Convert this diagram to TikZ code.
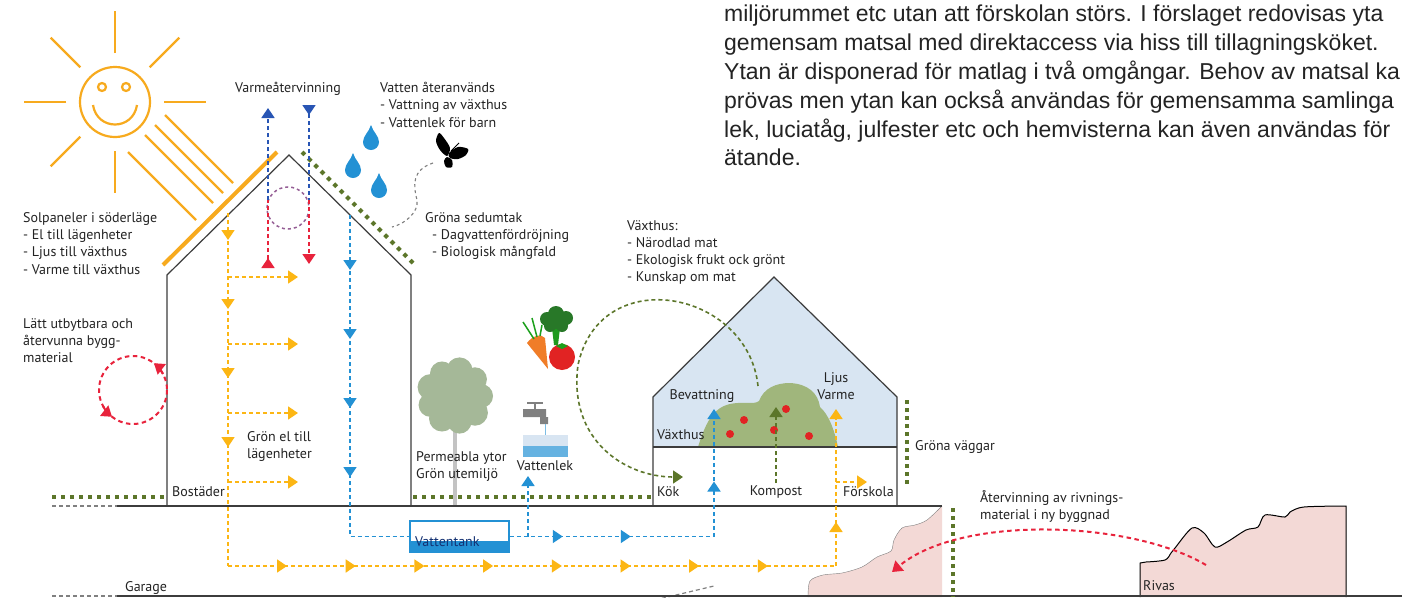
\documentclass[tikz,border=0pt]{standalone}
\usepackage{fontspec}
\setmainfont{PT Sans}
\newfontfamily\bodyfont{Liberation Sans}
\usetikzlibrary{arrows.meta,decorations.markings}

\definecolor{sunorange}{RGB}{247,170,30}
\definecolor{sunflow}{RGB}{252,182,20}
\definecolor{waterblue}{RGB}{35,145,212}
\definecolor{warmblue}{RGB}{40,85,180}
\definecolor{warmred}{RGB}{232,35,60}
\definecolor{reuse}{RGB}{232,35,60}
\definecolor{mossgreen}{RGB}{92,118,42}
\definecolor{loopviolet}{RGB}{150,95,150}
\definecolor{glassblue}{RGB}{216,229,242}
\definecolor{bushgreen}{RGB}{160,182,124}
\definecolor{treegreen}{RGB}{165,184,152}
\definecolor{trunkgrey}{RGB}{195,195,195}
\definecolor{cliffpink}{RGB}{243,217,214}
\definecolor{wallgrey}{RGB}{60,60,60}
\definecolor{labelgrey}{RGB}{35,35,35}
\definecolor{tankblue}{RGB}{20,50,115}
\definecolor{carrot}{RGB}{240,125,40}
\definecolor{brocco}{RGB}{40,120,40}
\definecolor{tomato}{RGB}{225,35,35}

\tikzset{
  raindrop/.pic={
    \fill[waterblue] (0,-17) .. controls (2,-10) and (8,-6) .. (8,0)
      .. controls (8,4.5) and (4.5,8) .. (0,8)
      .. controls (-4.5,8) and (-8,4.5) .. (-8,0)
      .. controls (-8,-6) and (-2,-10) .. cycle;
  }
}

\begin{document}
\begin{tikzpicture}[x=1pt,y=-1pt,
  >={Triangle[width=13pt,length=10pt]},
  lbl/.style={anchor=north west, inner sep=0pt, align=left, text=labelgrey,
    font=\fontsize{14}{17.3}\selectfont},
  clbl/.style={lbl, anchor=north, align=center},
  wall/.style={draw=wallgrey, line width=1.2pt},
  sunline/.style={draw=sunorange, line width=2.2pt},
  flow/.style={line width=1.6pt, dash pattern=on 4pt off 3pt},
  greenflow/.style={flow, draw=mossgreen},
  redflow/.style={draw=reuse, line width=2pt, dash pattern=on 4.5pt off 3.5pt},
  greendots/.style={draw=mossgreen, line width=4pt, dash pattern=on 4pt off 5pt},
  walldots/.style={draw=mossgreen, line width=3.5pt, dash pattern=on 3.5pt off 4.5pt},
  greydash/.style={draw=gray, line width=1.2pt, dash pattern=on 4pt off 3pt},
  midtips/.style={postaction={decorate},
    decoration={markings, mark=between positions #1 with {\arrow{>}}}},
  onetip/.style={postaction={decorate},
    decoration={markings, mark=at position #1 with {\arrow{>}}}}
]
\fill[white] (0,0) rectangle (1402,597);
\useasboundingbox (0,0) rectangle (1402,597);

% sun
\coordinate (sun) at (115,102);
\draw[sunline] (sun) circle (35);
\foreach \a in {0,90,135,180,225,270,315}
  \draw[sunline, shift={(sun)}] (\a:49) -- (\a:91);
\draw[sunline] (102,87) circle (4) (126,87) circle (4);
\draw[sunline] (93,105) .. controls (97,131) and (133,131) .. (137,105);
\foreach \d in {50,30,10,-24}
  \draw[sunline] ({(280+\d)/2},{(280-\d)/2}) -- ({(416+\d)/2},{(416-\d)/2});
\draw[sunorange, line width=4pt] (163,265) -- (277,152);

% rain and butterfly
\pic at (371,142) {raindrop};
\pic at (353,170) {raindrop};
\pic at (379,190) {raindrop};
\fill[black] plot[smooth cycle] coordinates {(447,156) (440,150) (436,141) (439,133) (444,138) (450,148)};
\fill[black] plot[smooth cycle] coordinates {(449,153) (458,147) (468,149) (466,155) (458,159) (450,158)};
\fill[black] plot[smooth cycle] coordinates {(447,157) (452,160) (452,167) (446,167) (444,161)};
\draw[black, line width=0.8pt] (451,151) -- (459,143);
\draw[gray, line width=1.1pt, dash pattern=on 3pt off 3pt]
  (433,163) .. controls (412,170) and (413,185) .. (417,200)
  .. controls (419,212) and (405,224) .. (392,227);

% ground, garage and cliffs
\fill[cliffpink] plot[smooth] coordinates {(942,506) (927,520) (915,525) (902,528) (894,540) (891,551) (877,557) (862,567) (842,573) (823,575) (810,581) (808,597)} -- (942,597) -- cycle;
\draw[gray] plot[smooth] coordinates {(942,506) (927,520) (915,525) (902,528) (894,540) (891,551) (877,557) (862,567) (842,573) (823,575) (810,581) (808,597)};
\filldraw[fill=cliffpink, draw=black, line width=1pt] (1140,597) -- (1140,563)
  -- plot[smooth] coordinates {(1146,562) (1165,560) (1171,553) (1175,548) (1192,528) (1204,533) (1215,547) (1227,542) (1246,530) (1258,527) (1265,515) (1285,517) (1290,512) (1304,507) (1346,506)}
  -- (1346,597);
\draw[greydash] (52,506) -- (117,506) (52,596) -- (117,596);
\draw[greydash] (655,600) -- (714,586);
\draw[wall] (117,506) -- (942,506);
\draw[wall] (117,596) -- (1402,596);

% green roof, walls and yards
\draw[greendots] (302,152) -- (413,263);
\draw[greendots] (52,497) -- (165,497);
\draw[greendots] (413,497) -- (651,497);
\draw[walldots] (907,400) -- (907,485);
\draw[walldots] (953,508) -- (953,597);

% greenhouse
\fill[glassblue] (653,447) -- (653,397) -- (774,277) -- (897,397) -- (897,447) -- cycle;
\fill[bushgreen] (698,447) .. controls (705,425) and (712,408) .. (730,404)
  .. controls (745,401) and (754,405) .. (759,401)
  .. controls (764,388) and (776,383) .. (790,383)
  .. controls (808,384) and (818,393) .. (820,407)
  .. controls (828,414) and (834,428) .. (838,447) -- cycle;
\foreach \p in {(744,420),(730,434),(786,409),(774,430),(809,436)}
  \fill[tomato] \p circle (4);
\draw[wall] (653,506) -- (653,397) -- (774,277) -- (897,397) -- (897,506);
\draw[wall] (653,447) -- (897,447);

% houses
\draw[wall] (167,506) -- (167,275) -- (289,155) -- (411,275) -- (411,506);

% tree
\draw[trunkgrey, line width=4pt] (455,425) -- (455,505);
\fill[treegreen] (455,396) circle (30);
\foreach \a/\r in {0/12,40/13,80/12,120/13,160/12,200/13,240/12,280/13,320/12}
  \fill[treegreen, shift={(455,396)}] (\a:26) circle (\r);

% vegetables
\fill[carrot] (527,343) .. controls (532,336) and (541,333) .. (545,338) -- (548,369) -- cycle;
\draw[brocco!70!green, line width=1.5pt] (534,339) -- (523,322) (537,337) -- (532,318) (540,336) -- (542,325);
\fill[brocco!75!green] (552,328) -- (560,328) -- (558,345) -- (554,345) -- cycle;
\fill[brocco] (547,319) circle (7) (556,314) circle (8) (566,318) circle (7) (562,326) circle (6) (550,326) circle (6) (556,322) circle (7);
\fill[tomato] (562,357) circle (13);
\fill[brocco!70!green] (556,346) -- (562,343) -- (568,346) -- (562,349) -- cycle;

% water tap and basin
\draw[gray, line width=2pt] (527,403) -- (543,403) (535,403) -- (535,410);
\fill[gray] (523,409) rectangle (546,417) (540,417) rectangle (548,424);
\draw[waterblue!60, line width=1pt] (545,424) -- (545,446);
\fill[glassblue] (523,435) rectangle (568,446);
\fill[waterblue!70] (523,446) rectangle (568,457);

% water tank
\fill[waterblue] (410,541) rectangle (509,552);
\node[draw=waterblue, line width=1.5pt, minimum width=99pt, minimum height=31pt, inner sep=0pt] (tank) at (459.5,536.5) {};

% heat recovery
\draw[loopviolet, line width=1.5pt, dash pattern=on 3pt off 3pt] (288,208) circle (21);
\draw[flow, warmred, onetip=8pt] (268,266) -- (268,200);
\draw[flow, warmblue, ->] (268,200) -- (268,108);
\draw[flow, warmblue, onetip=8pt] (309,107) -- (309,200);
\draw[flow, warmred, ->] (309,200) -- (309,264);

% solar power
\draw[flow, sunflow, midtips={27pt and 302pt step 69pt}] (228,213) -- (228,566);
\foreach \y in {277,344,413,482}
  \draw[flow, sunflow, ->] (228,\y) -- (298,\y);
\draw[flow, sunflow, midtips={59pt and 540pt step 68.7pt}] (228,566) -- (836,566);
\draw[flow, sunflow, onetip=44pt, ->] (836,566) -- (836,409);
\draw[flow, sunflow, ->] (836,482) -- (867,482);

% rain water
\draw[flow, waterblue, midtips={55pt and 262pt step 69pt}] (350,215) -- (350,536.5) -- (tank.west);
\draw[flow, waterblue, midtips={53pt and 121pt step 68pt}] (tank.east) -- (714,536.5);
\draw[flow, waterblue, onetip=55pt, ->] (714,536.5) -- (714,409);
\draw[flow, waterblue, ->] (528,536.5) -- (528,476);

% food and compost
\draw[greenflow, ->] (758,386) .. controls (748,290) and (600,262) .. (578,365)
  .. controls (568,440) and (625,477) .. (683,477);
\draw[greenflow, ->] (776,483) -- (776,407);

% reused materials
\draw[redflow] (133,390) circle (34);
\draw[reuse, line width=2pt, ->, shift={(133,390)}] (-28:34) arc[start angle=-28, end angle=-52, radius=34];
\draw[reuse, line width=2pt, ->, shift={(133,390)}] (152:34) arc[start angle=152, end angle=128, radius=34];
\draw[redflow, ->] (1206,565) .. controls (1130,520) and (960,515) .. (892,572);

% labels
\node[lbl] (sol) at (23,212) {Solpaneler i söderläge\\- El till lägenheter\\- Ljus till växthus\\- Varme till växthus};
\node[lbl] (bygg) at (23,318) {Lätt utbytbara och\\återvunna bygg-\\material};
\node[clbl] (varme) at (288,82) {Varmeåtervinning};
\node[lbl] (vatten) at (380,82) {Vatten återanvänds\\- Vattning av växthus\\- Vattenlek för barn};
\node[lbl] (sedum) at (425,212) {Gröna sedumtak\\\hspace*{7pt}- Dagvattenfördröjning\\\hspace*{7pt}- Biologisk mångfald};
\node[lbl] (vaxthus) at (627,220) {Växthus:\\- Närodlad mat\\- Ekologisk frukt ock grönt\\- Kunskap om mat};
\node[lbl] (gronel) at (247,431) {Grön el till\\lägenheter};
\node[lbl] (bostader) at (172,486) {Bostäder};
\node[lbl] (perm) at (416,451) {Permeabla ytor\\Grön utemiljö};
\node[clbl] (vattenlek) at (545,460) {Vattenlek};
\node[lbl, text=tankblue] (tanktxt) at (415,536) {Vattentank};
\node[lbl] (garage) at (125,581) {Garage};
\node[clbl] (bevattning) at (702,389) {Bevattning};
\node[clbl] (ljus) at (836,372) {Ljus\\Varme};
\node[lbl] (vaxt) at (657,429) {Växthus};
\node[lbl] (kok) at (657,486) {Kök};
\node[clbl] (kompost) at (776,485) {Kompost};
\node[lbl] (forskola) at (843,486) {Förskola};
\node[lbl] (vaggar) at (915,440) {Gröna väggar};
\node[lbl] (atervinning) at (980,490) {Återvinning av rivnings-\\material i ny byggnad};
\node[lbl] (rivas) at (1143,580) {Rivas};

% text block
\node[anchor=north west, inner sep=0pt, align=left, text=labelgrey,
  font=\bodyfont\fontsize{23}{28.8}\selectfont] (para) at (724,5)
  {miljörummet etc utan att förskolan störs. I förslaget redovisas yta\\
   gemensam matsal med direktaccess via hiss till tillagningsköket.\\
   Ytan är disponerad för matlag i två omgångar. Behov av matsal ka\\
   prövas men ytan kan också användas för gemensamma samlinga\\
   lek, luciatåg, julfester etc och hemvisterna kan även användas för\\
   ätande.};
\end{tikzpicture}
\end{document}
